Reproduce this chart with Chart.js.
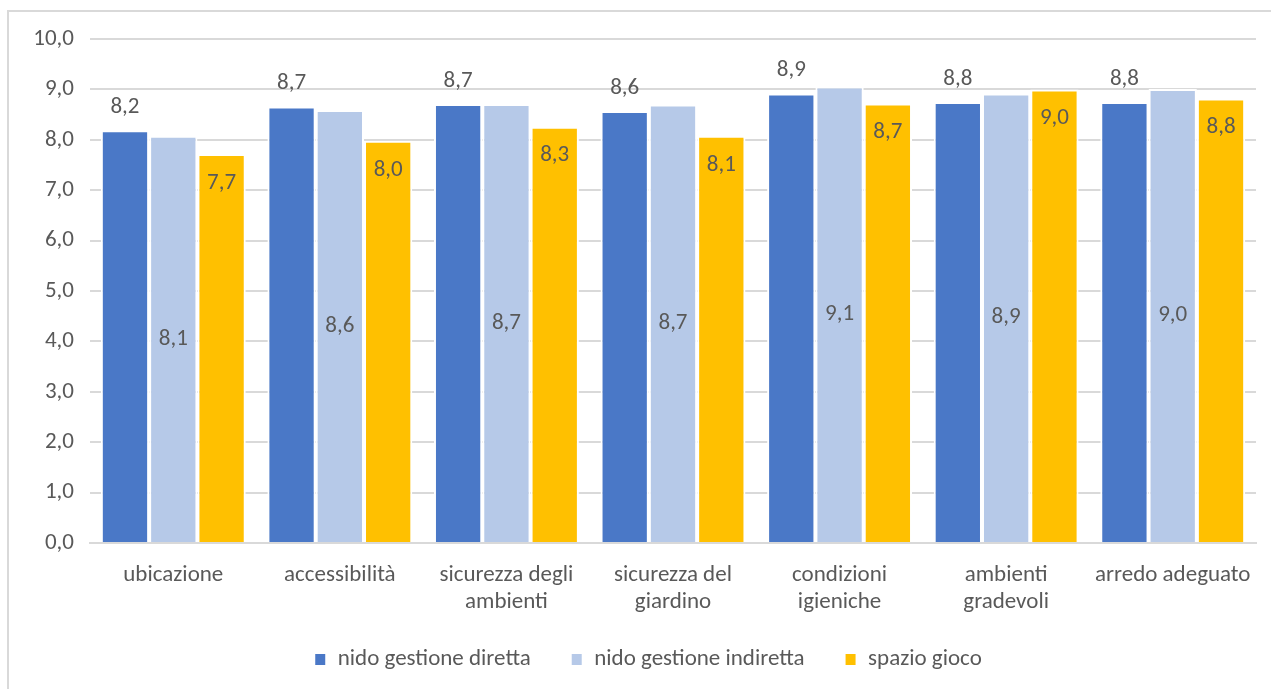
<!DOCTYPE html>
<html>
<head>
<meta charset="utf-8">
<script src="https://cdn.jsdelivr.net/npm/chart.js@4.4.1/dist/chart.umd.min.js"></script>
<style>
  html, body { margin: 0; padding: 0; background: #ffffff; overflow: hidden; }
  #frame {
    position: absolute; left: 7px; top: 10px;
    width: 1300px; height: 720px;
    border: 2px solid #d9d9d9; box-sizing: border-box;
  }
  #wrap { position: absolute; left: 0; top: 0; width: 1271px; height: 689px; }
</style>
</head>
<body>
<div id="frame"></div>
<div id="wrap"><canvas id="c" width="1271" height="689"></canvas></div>
<script>
// Categories (multi-line labels as arrays of lines)
const categories = [
  ["ubicazione"],
  ["accessibilità"],
  ["sicurezza degli", "ambienti"],
  ["sicurezza del", "giardino"],
  ["condizioni", "igieniche"],
  ["ambienti", "gradevoli"],
  ["arredo adeguato"]
];

// Series values
const nidoDiretta   = [8.19, 8.66, 8.71, 8.57, 8.92, 8.75, 8.75];
const nidoIndiretta = [8.08, 8.59, 8.71, 8.70, 9.06, 8.92, 9.01];
const spazioGioco   = [7.72, 7.98, 8.26, 8.08, 8.72, 9.00, 8.82];

const seriesNames = ["nido gestione diretta", "nido gestione indiretta", "spazio gioco"];

// Value axis ticks
const yTicks = [0, 1, 2, 3, 4, 5, 6, 7, 8, 9, 10];

const FONT = "Carlito, Calibri, 'Open Sans', sans-serif";
const TEXT = "#595959";
const SIZE = 23;
const LEGEND_GAP = 40;

const fmt = v => v.toFixed(1).replace(".", ",");

// Draws the value labels: outside end, centered, inside end per series
const valueLabels = {
  id: "valueLabels",
  afterDatasetsDraw(chart) {
    const ctx = chart.ctx;
    ctx.save();
    ctx.font = SIZE + "px " + FONT;
    ctx.fillStyle = TEXT;
    ctx.textAlign = "center";
    ctx.textBaseline = "middle";
    chart.data.datasets.forEach((ds, i) => {
      const meta = chart.getDatasetMeta(i);
      meta.data.forEach((bar, j) => {
        const v = ds.data[j];
        let y;
        if (i === 0) y = bar.y - 23;
        else if (i === 1) y = (bar.y + bar.base) / 2;
        else y = bar.y + 29;
        ctx.fillText(fmt(v), bar.x, y);
      });
    });
    ctx.restore();
  }
};

const chart = new Chart(document.getElementById("c"), {
  type: "bar",
  data: {
    labels: categories,
    datasets: [
      { label: seriesNames[0], data: nidoDiretta,   backgroundColor: "#4a78c7" },
      { label: seriesNames[1], data: nidoIndiretta, backgroundColor: "#b6c9e8" },
      { label: seriesNames[2], data: spazioGioco,   backgroundColor: "#ffc000" }
    ]
  },
  options: {
    responsive: false,
    animation: false,
    devicePixelRatio: 1,
    datasets: {
      bar: {
        categoryPercentage: 0.87,
        barPercentage: 1.0,
        borderColor: "#ffffff",
        borderWidth: 2,
        borderSkipped: "bottom"
      }
    },
    layout: { padding: { top: 39, right: 15, left: 0, bottom: 8 } },
    plugins: {
      legend: {
        position: "bottom",
        labels: {
          font: { family: FONT, size: SIZE },
          color: TEXT,
          boxWidth: 12,
          boxHeight: 13,
          padding: LEGEND_GAP
        }
      },
      tooltip: { enabled: false }
    },
    scales: {
      x: {
        grid: { display: false, drawTicks: false },
        border: { display: true, color: "#d9d9d9", width: 2 },
        ticks: {
          font: { family: FONT, size: SIZE, lineHeight: 1.2 },
          color: TEXT,
          padding: 18,
          maxRotation: 0,
          autoSkip: false
        },
        afterFit(scale) { scale.height = 95; }
      },
      y: {
        min: 0,
        max: 10,
        afterBuildTicks(scale) { scale.ticks = yTicks.map(v => ({ value: v })); },
        grid: { color: "#d9d9d9", lineWidth: 2, drawTicks: false },
        border: { display: false },
        ticks: {
          font: { family: FONT, size: SIZE },
          color: TEXT,
          padding: 16,
          callback: v => fmt(v)
        },
        afterFit(scale) { scale.width = 90; }
      }
    }
  },
  plugins: [valueLabels]
});

// Compact legend band: wide spacing between items, small vertical inset,
// centred under the plot area
const legend = chart.legend;
const legendFit = legend.fit;
legend.fit = function () {
  legendFit.call(this);
  this.height = 43;
};
legend.draw = function () {
  const ctx = this.ctx;
  ctx.save();
  ctx.translate(20, 10 - LEGEND_GAP);
  this._draw();
  ctx.restore();
};
chart.update();
</script>
</body>
</html>
